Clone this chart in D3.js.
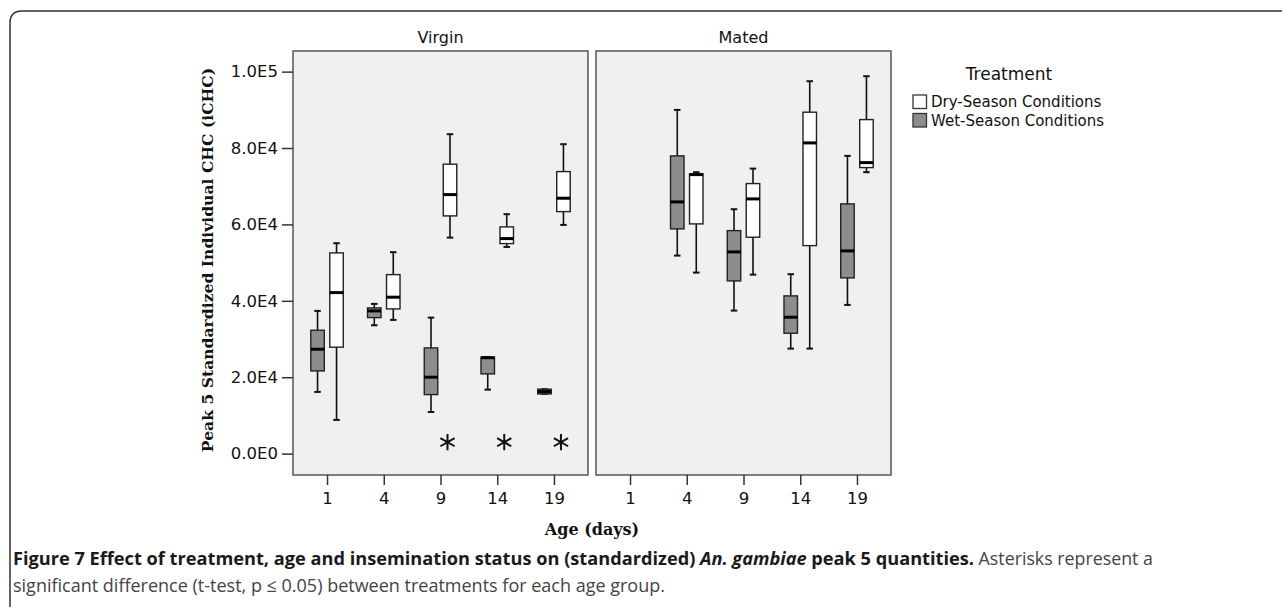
<!DOCTYPE html>
<html>
<head>
<meta charset="utf-8">
<script src="https://cdn.jsdelivr.net/npm/d3@7"></script>
<style>
  body { margin: 0; background: #fff; }
  svg { display: block; }
</style>
</head>
<body>
<div id="chart"></div>
<script>
// Data: box stats per age are [min, q1, median, q3, max]
var days = [1, 4, 9, 14, 19]
var statuses = ["Virgin", "Mated"]
var treatments = ["Dry-Season Conditions", "Wet-Season Conditions"]
var yTicks = [0, 20000, 40000, 60000, 80000, 100000]

var virginWet = [
    [16150, 21650, 27330, 32300, 37360],
    [33600, 35600, 37360, 38140, 39190],
    [10900, 15450, 20000, 27670, 35600],
    [16750, 20870, 25100, 25240, 25240],
    [15630, 15630, 16230, 16860, 16860]
]
var virginDry = [
    [8820, 27860, 42150, 52540, 55080],
    [35000, 37880, 40950, 46860, 52730],
    [56550, 62230, 67810, 75770, 83620],
    [54110, 54980, 56290, 59350, 62680],
    [59870, 63360, 66860, 73830, 81000]
]
var matedWet = [
    null,
    [51840, 58830, 65900, 77940, 89980],
    [37440, 45210, 52810, 58380, 63980],
    [27490, 31520, 35710, 41290, 46970],
    [38930, 46000, 53070, 65370, 77940]
]
var matedDry = [
    null,
    [47390, 60140, 73040, 73230, 73670],
    [46860, 56650, 66680, 70690, 74610],
    [27490, 54450, 81340, 89380, 97490],
    [73670, 74880, 76180, 87440, 98800]
]
// ages with a significant difference (asterisks), virgin panel only
var signifDays = [9, 14, 19]
var signifLevel = 3000

var svgWidth = 1282,
    svgHeight = 607,
    panelTop = 51,
    panelBottom = 475,
    panelWidth = 295,
    panelLefts = [293, 596],
    boxW = 13.5,
    boxOff = 9.5,
    capW = 6.5
var fill = { dry: "#ffffff", wet: "#8d8d8d" }

var svg = d3.select("#chart").append("svg").attr("width", svgWidth).attr("height", svgHeight)

// outer figure frame (rounded corner top-left, runs off the page)
svg.append("path")
    .attr("d", "M10,620 L10,23 Q10,11 22,11 L1300,11")
    .attr("fill", "none")
    .attr("stroke", "#333")
    .attr("stroke-width", 1.5)

var yScale = d3.scaleLinear()
    .domain([-5600, 105400])
    .range([panelBottom, panelTop])

function sci(v) {
    if (v === 0) return "0.0E0"
    var e = Math.floor(Math.log10(v))
    return (v / Math.pow(10, e)).toFixed(1) + "E" + e
}

var panelData = [
    { name: statuses[0], wet: virginWet, dry: virginDry },
    { name: statuses[1], wet: matedWet, dry: matedDry }
]

panelData.forEach(function(p, i) {
    var left = panelLefts[i]
    var xScale = d3.scalePoint()
        .domain(days)
        .range([left, left + panelWidth])
        .padding(0.6)

    // panel background
    svg.append("rect")
        .attr("x", left)
        .attr("y", panelTop)
        .attr("width", panelWidth)
        .attr("height", panelBottom - panelTop)
        .attr("fill", "#f0f0f0")
        .attr("stroke", "#555")
        .attr("stroke-width", 1.5)

    // panel title
    svg.append("text")
        .attr("x", left + panelWidth / 2)
        .attr("y", 43)
        .attr("text-anchor", "middle")
        .attr("font-family", "DejaVu Sans")
        .attr("font-size", 16)
        .attr("fill", "#111")
        .text(p.name)

    // x axis
    var xAxis = svg.append("g")
        .attr("transform", `translate(0, ${panelBottom})`)
        .call(d3.axisBottom(xScale).tickSize(10).tickPadding(7))
    xAxis.select(".domain").remove()
    xAxis.selectAll("line").attr("stroke", "#333").attr("stroke-width", 1.5)
    xAxis.selectAll("text")
        .attr("font-family", "DejaVu Sans")
        .attr("font-size", 16.5)
        .attr("fill", "#111")

    // boxes
    var groups = [
        { key: "wet", stats: p.wet, off: -boxOff },
        { key: "dry", stats: p.dry, off: boxOff }
    ]
    groups.forEach(function(gp) {
        var items = days.map(function(d, j) { return { day: d, s: gp.stats[j] } })
            .filter(function(o) { return o.s })
        var g = svg.append("g")
        var box = g.selectAll("g.box")
            .data(items)
            .enter()
            .append("g")
            .attr("class", "box")
            .attr("transform", function(o) { return `translate(${xScale(o.day) + gp.off}, 0)` })

        // whiskers
        box.append("line")
            .attr("x1", 0).attr("x2", 0)
            .attr("y1", function(o) { return yScale(o.s[4]) })
            .attr("y2", function(o) { return yScale(o.s[0]) })
            .attr("stroke", "#111")
            .attr("stroke-width", 1.6)
        box.selectAll("line.cap")
            .data(function(o) { return [o.s[0], o.s[4]] })
            .enter()
            .append("line")
            .attr("class", "cap")
            .attr("x1", -capW / 2).attr("x2", capW / 2)
            .attr("y1", function(v) { return yScale(v) })
            .attr("y2", function(v) { return yScale(v) })
            .attr("stroke", "#111")
            .attr("stroke-width", 2)

        // the box itself
        box.append("rect")
            .attr("x", -boxW / 2)
            .attr("width", boxW)
            .attr("y", function(o) { return yScale(o.s[3]) })
            .attr("height", function(o) { return Math.max(yScale(o.s[1]) - yScale(o.s[3]), 1) })
            .attr("fill", fill[gp.key])
            .attr("stroke", "#222")
            .attr("stroke-width", 1.4)

        // median
        box.append("line")
            .attr("x1", -boxW / 2).attr("x2", boxW / 2)
            .attr("y1", function(o) { return yScale(o.s[2]) })
            .attr("y2", function(o) { return yScale(o.s[2]) })
            .attr("stroke", "#000")
            .attr("stroke-width", 3)
    })

    // asterisks
    if (p.name === "Virgin") {
        svg.append("g")
            .selectAll("path")
            .data(signifDays)
            .enter()
            .append("path")
            .attr("transform", function(d) { return `translate(${xScale(d) + 7}, ${yScale(signifLevel)})` })
            .attr("d", d3.symbol(d3.symbolAsterisk, 190))
            .attr("fill", "none")
            .attr("stroke", "#111")
            .attr("stroke-width", 2)
    }
})

// y axis
var yAxis = svg.append("g")
    .attr("transform", `translate(${panelLefts[0]}, 0)`)
    .call(d3.axisLeft(yScale).tickValues(yTicks).tickFormat(sci).tickSize(11).tickPadding(4))
yAxis.select(".domain").remove()
yAxis.selectAll("line").attr("stroke", "#333").attr("stroke-width", 1.5)
yAxis.selectAll("text")
    .attr("font-family", "DejaVu Sans")
    .attr("font-size", 16.5)
    .attr("fill", "#111")

// y axis title
svg.append("text")
    .attr("transform", "translate(213, 260) rotate(-90)")
    .attr("text-anchor", "middle")
    .attr("font-family", "DejaVu Serif")
    .attr("font-weight", "bold")
    .attr("font-size", 15.6)
    .attr("fill", "#111")
    .text("Peak 5 Standardized Individual CHC (iCHC)")

// x axis title
svg.append("text")
    .attr("x", (panelLefts[0] + panelLefts[1] + panelWidth) / 2)
    .attr("y", 535)
    .attr("text-anchor", "middle")
    .attr("font-family", "DejaVu Serif")
    .attr("font-weight", "bold")
    .attr("font-size", 16)
    .attr("fill", "#111")
    .text("Age (days)")

// legend
var legend = svg.append("g")
svg.append("text")
    .attr("x", 1009)
    .attr("y", 80)
    .attr("text-anchor", "middle")
    .attr("font-family", "DejaVu Sans")
    .attr("font-size", 17)
    .attr("fill", "#111")
    .text("Treatment")
var legendItems = legend.selectAll("g")
    .data(treatments)
    .enter()
    .append("g")
    .attr("transform", function(d, i) { return `translate(913, ${95 + i * 18.5})` })
legendItems.append("rect")
    .attr("width", 13.5)
    .attr("height", 13.5)
    .attr("fill", function(d, i) { return i === 0 ? fill.dry : fill.wet })
    .attr("stroke", "#333")
    .attr("stroke-width", 1.3)
legendItems.append("text")
    .attr("x", 18)
    .attr("y", 12.3)
    .attr("font-family", "DejaVu Sans")
    .attr("font-size", 15)
    .attr("fill", "#111")
    .text(function(d) { return d })

// caption
var cap1 = svg.append("text")
    .attr("x", 13)
    .attr("y", 565)
    .attr("font-family", "Open Sans")
    .attr("font-size", 18.2)
cap1.append("tspan").attr("font-weight", "bold").attr("fill", "#1a1a1a")
    .text("Figure 7 Effect of treatment, age and insemination status on (standardized) ")
cap1.append("tspan").attr("font-weight", "bold").attr("font-style", "italic").attr("fill", "#1a1a1a")
    .text("An. gambiae")
cap1.append("tspan").attr("font-weight", "bold").attr("fill", "#1a1a1a")
    .text(" peak 5 quantities.")
cap1.append("tspan").attr("fill", "#444").attr("font-size", 17.8)
    .text(" Asterisks represent a")
svg.append("text")
    .attr("x", 13)
    .attr("y", 592)
    .attr("font-family", "Open Sans")
    .attr("font-size", 18)
    .attr("fill", "#444")
    .text("significant difference (t-test, p \u2264 0.05) between treatments for each age group.")
</script>
</body>
</html>
